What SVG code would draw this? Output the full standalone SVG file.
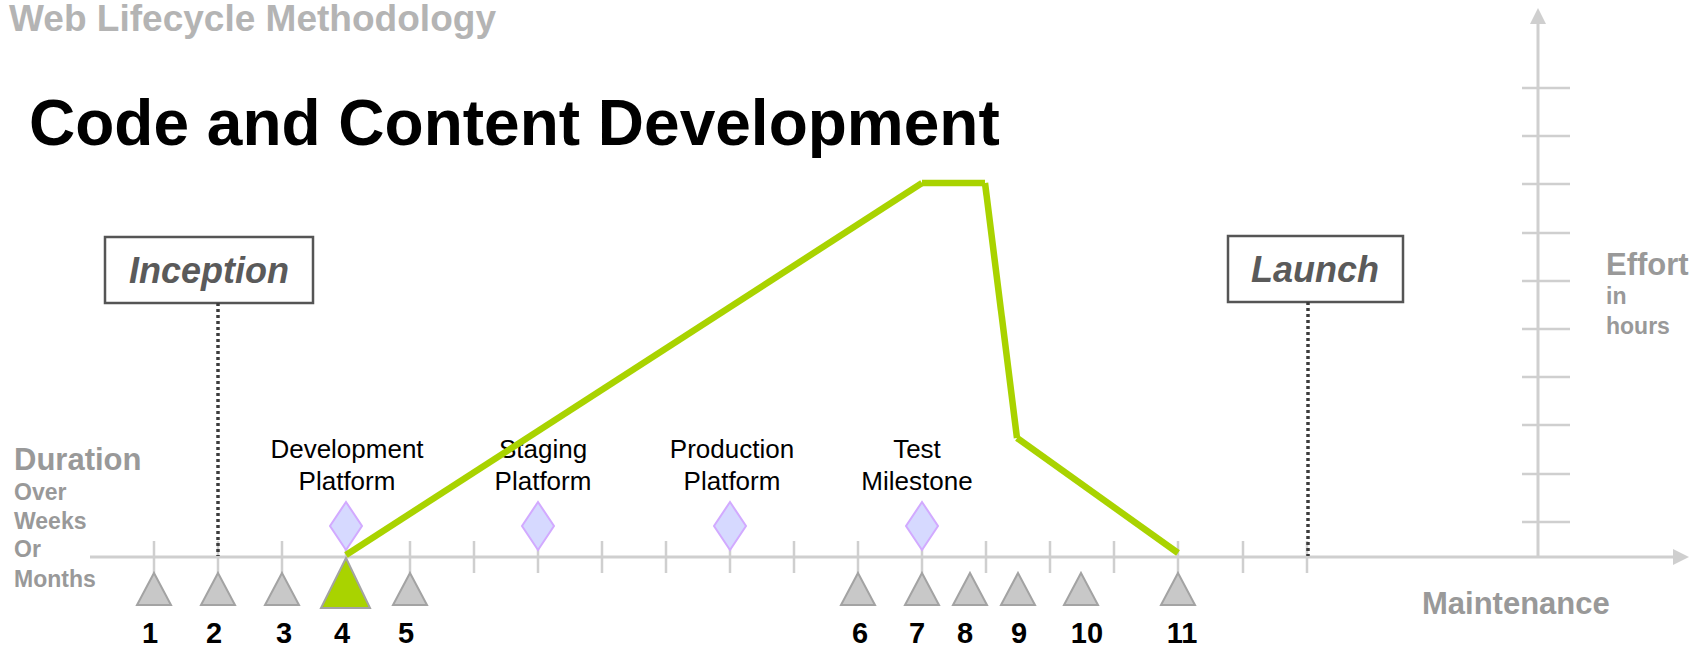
<svg xmlns="http://www.w3.org/2000/svg" width="1692" height="648" viewBox="0 0 1692 648">
<defs>
<style>
.t{font-family:"Liberation Sans",Arial,sans-serif}
.hdr{font-size:36px;font-weight:bold;fill:#b4b4b4}
.main{font-size:64px;font-weight:bold;fill:#000}
.ax{font-weight:bold;fill:#999}
.big{font-size:31px}
.sm{font-size:23px}
.box{fill:#fff;stroke:#555;stroke-width:2.5}
.boxt{font-size:36px;font-weight:bold;font-style:italic;fill:#5a5a5a;text-anchor:middle}
.dot{stroke:#3c3c3c;stroke-width:3.5;stroke-dasharray:3 3;fill:none}
.axis{stroke:#cfcfcf;stroke-width:3;fill:none}
.tick{stroke:#cfcfcf;stroke-width:2.5;fill:none}
.tri{fill:#c8c8c8;stroke:#a3a3a3;stroke-width:2}
.trig{fill:#a9d300;stroke:#a3a3a3;stroke-width:2}
.dia{fill:#d6d9ff;stroke:#d2aaff;stroke-width:2}
.lbl{font-size:26px;fill:#000;text-anchor:middle}
.num{font-size:29px;font-weight:bold;fill:#000;text-anchor:middle}
.g{stroke:#a9d300;stroke-width:6.5;fill:none;stroke-linecap:butt}
</style>
</defs>
<rect width="1692" height="648" fill="#fff"/>
<text class="t hdr" x="9" y="31" textLength="487" lengthAdjust="spacingAndGlyphs">Web Lifecycle Methodology</text>
<text class="t main" x="29" y="145">Code and Content Development</text>

<g id="axes">
<line class="axis" x1="90" y1="557" x2="1674" y2="557"/>
<polygon points="1673,549 1689,557 1673,565" fill="#cfcfcf"/>
<line class="axis" x1="1538" y1="557" x2="1538" y2="23"/>
<polygon points="1530,24 1538,8 1546,24" fill="#cfcfcf"/>
<g>
<line class="tick" x1="154" y1="541" x2="154" y2="573"/>
<line class="tick" x1="218" y1="541" x2="218" y2="573"/>
<line class="tick" x1="282" y1="541" x2="282" y2="573"/>
<line class="tick" x1="346" y1="541" x2="346" y2="573"/>
<line class="tick" x1="410" y1="541" x2="410" y2="573"/>
<line class="tick" x1="474" y1="541" x2="474" y2="573"/>
<line class="tick" x1="538" y1="541" x2="538" y2="573"/>
<line class="tick" x1="602" y1="541" x2="602" y2="573"/>
<line class="tick" x1="666" y1="541" x2="666" y2="573"/>
<line class="tick" x1="730" y1="541" x2="730" y2="573"/>
<line class="tick" x1="794" y1="541" x2="794" y2="573"/>
<line class="tick" x1="858" y1="541" x2="858" y2="573"/>
<line class="tick" x1="922" y1="541" x2="922" y2="573"/>
<line class="tick" x1="986" y1="541" x2="986" y2="573"/>
<line class="tick" x1="1050" y1="541" x2="1050" y2="573"/>
<line class="tick" x1="1114" y1="541" x2="1114" y2="573"/>
<line class="tick" x1="1178" y1="541" x2="1178" y2="573"/>
<line class="tick" x1="1243" y1="541" x2="1243" y2="573"/>
<line class="tick" x1="1307" y1="541" x2="1307" y2="573"/>
</g>
<g>
<line class="tick" x1="1522" y1="88" x2="1570" y2="88"/>
<line class="tick" x1="1522" y1="136" x2="1570" y2="136"/>
<line class="tick" x1="1522" y1="184" x2="1570" y2="184"/>
<line class="tick" x1="1522" y1="233" x2="1570" y2="233"/>
<line class="tick" x1="1522" y1="281" x2="1570" y2="281"/>
<line class="tick" x1="1522" y1="329" x2="1570" y2="329"/>
<line class="tick" x1="1522" y1="377" x2="1570" y2="377"/>
<line class="tick" x1="1522" y1="425" x2="1570" y2="425"/>
<line class="tick" x1="1522" y1="474" x2="1570" y2="474"/>
<line class="tick" x1="1522" y1="522" x2="1570" y2="522"/>
</g>
<text class="t ax big" x="14" y="470">Duration</text>
<text class="t ax sm" x="14" y="500">Over</text>
<text class="t ax sm" x="14" y="529">Weeks</text>
<text class="t ax sm" x="14" y="557">Or</text>
<text class="t ax sm" x="14" y="587">Months</text>
<text class="t ax big" x="1606" y="275">Effort</text>
<text class="t ax sm" x="1606" y="304">in</text>
<text class="t ax sm" x="1606" y="334">hours</text>
<text class="t ax big" x="1422" y="614">Maintenance</text>
</g>

<g id="inception">
<rect class="box" x="105" y="237" width="208" height="66"/>
<text class="t boxt" x="209" y="283">Inception</text>
</g>
<g id="launch">
<rect class="box" x="1228" y="236" width="175" height="66"/>
<text class="t boxt" x="1315" y="282">Launch</text>
</g>

<g id="milestones">
<g id="dev-platform">
<polygon class="dia" points="346,502 362,526 346,550 330,526"/>
<text class="t lbl" x="347" y="458">Development</text>
<text class="t lbl" x="347" y="490">Platform</text>
</g>
<g id="staging-platform">
<polygon class="dia" points="538,502 554,526 538,550 522,526"/>
<text class="t lbl" x="543" y="458">Staging</text>
<text class="t lbl" x="543" y="490">Platform</text>
</g>
<g id="production-platform">
<polygon class="dia" points="730,502 746,526 730,550 714,526"/>
<text class="t lbl" x="732" y="458">Production</text>
<text class="t lbl" x="732" y="490">Platform</text>
</g>
<g id="test-milestone">
<polygon class="dia" points="922,502 938,526 922,550 906,526"/>
<text class="t lbl" x="917" y="458">Test</text>
<text class="t lbl" x="917" y="490">Milestone</text>
</g>
</g>

<g id="steps">
<g id="s1"><polygon class="tri" points="154,573 171,605 137,605"/><text class="t num" x="150" y="643">1</text></g>
<g id="s2"><polygon class="tri" points="218,573 235,605 201,605"/><text class="t num" x="214" y="643">2</text></g>
<g id="s3"><polygon class="tri" points="282,573 299,605 265,605"/><text class="t num" x="284" y="643">3</text></g>
<g id="s4"><polygon class="trig" points="346,558 370,608 321,608"/><text class="t num" x="342" y="643">4</text></g>
<g id="s5"><polygon class="tri" points="410,573 427,605 393,605"/><text class="t num" x="406" y="643">5</text></g>
<g id="s6"><polygon class="tri" points="858,573 875,605 841,605"/><text class="t num" x="860" y="643">6</text></g>
<g id="s7"><polygon class="tri" points="922,573 939,605 905,605"/><text class="t num" x="917" y="643">7</text></g>
<g id="s8"><polygon class="tri" points="970,573 987,605 953,605"/><text class="t num" x="965" y="643">8</text></g>
<g id="s9"><polygon class="tri" points="1018,573 1035,605 1001,605"/><text class="t num" x="1019" y="643">9</text></g>
<g id="s10"><polygon class="tri" points="1081,573 1098,605 1064,605"/><text class="t num" x="1087" y="643">10</text></g>
<g id="s11"><polygon class="tri" points="1178,573 1195,605 1161,605"/><text class="t num" x="1182" y="643">11</text></g>
</g>

<g id="connectors">
<line class="dot" x1="218" y1="303" x2="218" y2="556"/>
<line class="dot" x1="1308" y1="302" x2="1308" y2="556"/>
<line class="g" x1="346" y1="555" x2="922" y2="183"/>
<line class="g" x1="922" y1="183" x2="985" y2="183"/>
<line class="g" x1="985" y1="183" x2="1017" y2="438"/>
<line class="g" x1="1017" y1="438" x2="1178" y2="553"/>
</g>
</svg>
